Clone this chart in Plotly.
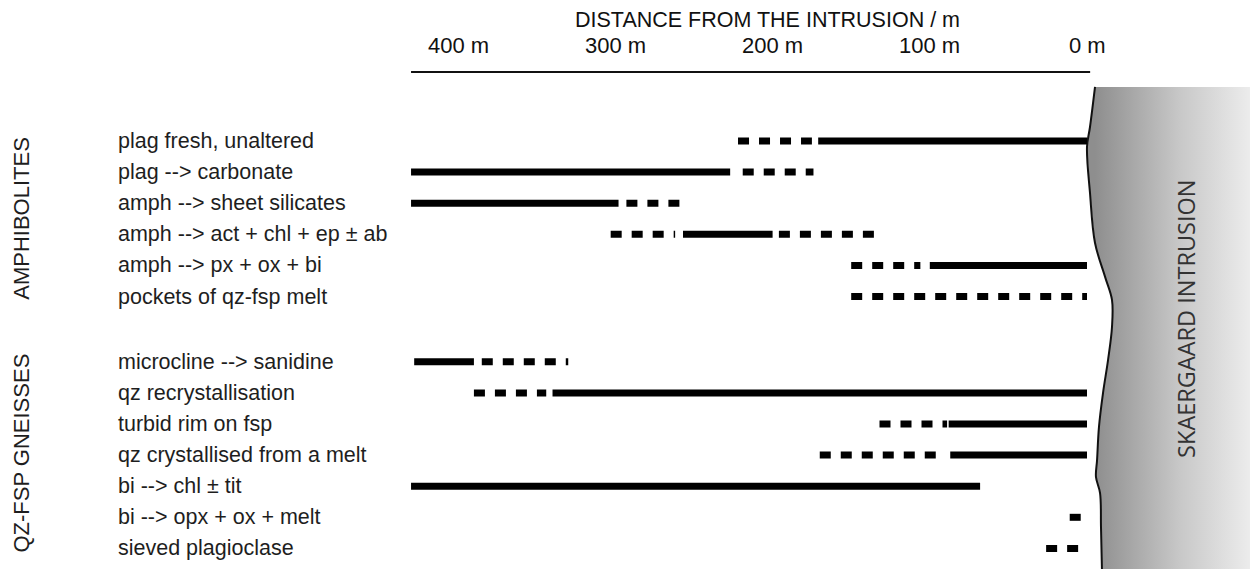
import plotly.graph_objects as go

W, H = 1250, 569

# ---------------- data ----------------
labels = [
    "plag fresh, unaltered",
    "plag --> carbonate",
    "amph --> sheet silicates",
    "amph --> act + chl + ep ± ab",
    "amph --> px + ox + bi",
    "pockets of qz-fsp melt",
    "microcline --> sanidine",
    "qz recrystallisation",
    "turbid rim on fsp",
    "qz crystallised from a melt",
    "bi --> chl ± tit",
    "bi --> opx + ox + melt",
    "sieved plagioclase",
]
# row position (group gap between the two rock types)
row_pos = [0, 1, 2, 3, 4, 5, 7.1, 8.1, 9.1, 10.1, 11.1, 12.1, 13.1]

groups = ["AMPHIBOLITES", "QZ-FSP GNEISSES"]
group_center = [2.5, 10.05]

# distance from the intrusion (m): (far end, near end)
solid_segments = [
    [(171, 0)],
    [(430, 227)],
    [(430, 298)],
    [(257, 200)],
    [(100, 0)],
    [],
    [(428, 390)],
    [(340, 0)],
    [(88, 0)],
    [(87, 0)],
    [(430, 68)],
    [],
    [],
]
dashed_segments = [
    [(222, 175)],
    [(219, 174)],
    [(293, 253)],
    [(303, 262), (196, 132)],
    [(150, 106)],
    [(150, 0)],
    [(385, 330)],
    [(390, 344)],
    [(132, 89)],
    [(170, 94)],
    [],
    [(11, 0)],
    [(26, 0)],
]

tick_vals = [400, 300, 200, 100, 0]
tick_text = ["400 m", "300 m", "200 m", "100 m", "0 m"]
axis_title = "DISTANCE FROM THE INTRUSION / m"
axis_extent = (430, -2)

# intrusion contact (distance m, row position)
contact_x = [-5.1, -1.9, 0, -1.9, -5.1, -11.5, -15.9, -15.9, -13.4, -10.2, -7.6, -6.4, -5.7, -8.3, -8.9, -9.5]
contact_y = [-1.74, -0.45, 0.19, 1.67, 3.28, 4.37, 5.11, 5.98, 7.04, 8.10, 9.20, 10.26, 10.80, 11.32, 12.41, 13.76]
intrusion_label = "SKAERGAARD INTRUSION"

# ---------------- axes mapping ----------------
PX_PER_M = 1.572
X0_PX = 1087.0
x_left = X0_PX / PX_PER_M
x_right = -(W - X0_PX) / PX_PER_M
PX_PER_ROW = 31.1
Y0_PX = 141.0
y_top = -Y0_PX / PX_PER_ROW
y_bot = (H - Y0_PX) / PX_PER_ROW

fig = go.Figure()

# intrusion body with gradient
poly_x = contact_x + [x_right - 2, x_right - 2, contact_x[0]]
poly_y = contact_y + [contact_y[-1], contact_y[0], contact_y[0]]
fig.add_trace(go.Scatter(
    x=poly_x, y=poly_y, mode="lines", fill="toself",
    line=dict(width=0, color="rgba(0,0,0,0)"),
    fillgradient=dict(type="horizontal",
                      colorscale=[[0, "#8e8e8e"], [0.55, "#c8c8c8"], [1, "#ececec"]],
                      start=-5, stop=x_right),
    hoverinfo="skip", showlegend=False))
fig.add_trace(go.Scatter(
    x=contact_x, y=contact_y, mode="lines", line_shape="spline",
    line=dict(color="#111111", width=2), hoverinfo="skip", showlegend=False))

# top axis line
fig.add_trace(go.Scatter(
    x=list(axis_extent), y=[-2.22, -2.22], mode="lines",
    line=dict(color="#111111", width=2), hoverinfo="skip", showlegend=False))

# bars
for i, yp in enumerate(row_pos):
    for a, b in solid_segments[i]:
        fig.add_trace(go.Scatter(x=[a, b], y=[yp, yp], mode="lines",
                                 line=dict(color="black", width=7),
                                 hoverinfo="skip", showlegend=False))
    for a, b in dashed_segments[i]:
        fig.add_trace(go.Scatter(x=[a, b], y=[yp, yp], mode="lines",
                                 line=dict(color="black", width=7, dash="11px,10px"),
                                 hoverinfo="skip", showlegend=False))

ann = []
FONT = "Liberation Sans, Arial, sans-serif"
for lab, yp in zip(labels, row_pos):
    ann.append(dict(x=116 / W, xref="paper", y=yp, yref="y", text=lab,
                    xanchor="left", yanchor="middle", showarrow=False,
                    font=dict(family=FONT, size=21.5, color="#1e1e1e")))
for g, yc in zip(groups, group_center):
    ann.append(dict(x=22 / W, xref="paper", y=yc, yref="y", text=g, textangle=-90,
                    xanchor="center", yanchor="middle", showarrow=False,
                    font=dict(family=FONT, size=22, color="#1e1e1e")))
for v, t in zip(tick_vals, tick_text):
    ann.append(dict(x=v, xref="x", y=1 - 46 / H, yref="paper", text=t,
                    xanchor="center", yanchor="middle", showarrow=False,
                    font=dict(family=FONT, size=22, color="#111111")))
ann.append(dict(x=767 / W, xref="paper", y=1 - 20 / H, yref="paper", text=axis_title,
                xanchor="center", yanchor="middle", showarrow=False,
                font=dict(family=FONT, size=21.5, color="#111111")))
ann.append(dict(x=1186 / W, xref="paper", y=5.72, yref="y", text=intrusion_label,
                textangle=-90, xanchor="center", yanchor="middle", showarrow=False,
                font=dict(family="Open Sans, Liberation Sans, sans-serif", size=23.5, color="#333333")))

fig.update_layout(
    width=W, height=H,
    margin=dict(l=0, r=0, t=0, b=0, pad=0),
    paper_bgcolor="white", plot_bgcolor="white",
    xaxis=dict(range=[x_left, x_right], visible=False, fixedrange=True),
    yaxis=dict(range=[y_bot, y_top], visible=False, fixedrange=True),
    annotations=ann,
    showlegend=False,
)

fig.write_html("out.html")
